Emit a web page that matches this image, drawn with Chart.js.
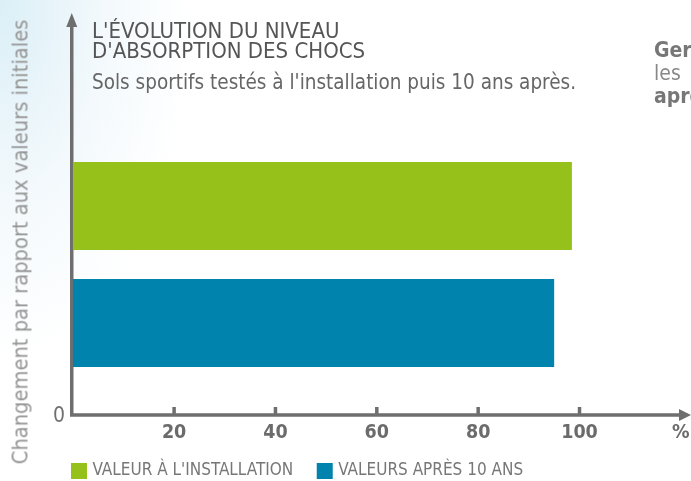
<!DOCTYPE html>
<html>
<head>
<meta charset="utf-8">
<script src="https://cdn.jsdelivr.net/npm/chart.js@4/dist/chart.umd.min.js"></script>
<style>
  body {
    margin: 0;
    width: 691px;
    height: 481px;
    overflow: hidden;
    position: relative;
    background: radial-gradient(ellipse 190px 360px at 0 0, #dbeff7 0%, #f3f9fc 55%, #ffffff 100%);
    font-family: "Liberation Sans Narrow", "DejaVu Sans Condensed", sans-serif;
  }
  #chart { position: absolute; left: 0; top: 0; }
  .txt { position: absolute; white-space: nowrap; }
  #title { left: 92px; top: 21px; font-size: 22px; line-height: 20px; color: #555; }
  #subtitle { left: 92px; top: 70px; font-size: 20.5px; color: #666; }
  #side { left: 654px; top: 39px; font-size: 21px; line-height: 23px; color: #888; }
  #side b { color: #777; }
  #ytitle { left: 20px; top: 242px; font-size: 21.7px; color: #959595; transform: translate(-50%, -50%) rotate(-90deg); }
  #zero { left: 53px; top: 403px; font-size: 21px; color: #707070; }
</style>
</head>
<body>
<canvas id="chart" width="691" height="481"></canvas>
<div class="txt" id="title">L'ÉVOLUTION DU NIVEAU<br>D'ABSORPTION DES CHOCS</div>
<div class="txt" id="subtitle">Sols sportifs testés à l'installation puis 10 ans après.</div>
<div class="txt" id="side"><b>Gerflor</b><br>les<br><b>après</b></div>
<div class="txt" id="ytitle">Changement par rapport aux valeurs initiales</div>
<div class="txt" id="zero">0</div>
<script>
// données
const categories = [''];
const seriesLabels = ["VALEUR À L'INSTALLATION", 'VALEURS APRÈS 10 ANS'];
const installValues = [98.5];
const after10Values = [95];
const tickLabels = [20, 40, 60, 80, 100];

const green = '#95c11a';
const blue = '#0083ad';
const axisColor = '#6e6e6e';
const fontFamily = '"Liberation Sans Narrow", "DejaVu Sans Condensed", sans-serif';

// axes avec flèches, dessinés à partir de l'échelle x
const axisArrows = {
  id: 'axisArrows',
  beforeDatasetsDraw(chart) {
    const { ctx, chartArea, scales: { x } } = chart;
    const x0 = x.getPixelForValue(0) - 1;
    const y0 = chartArea.bottom;
    ctx.save();
    ctx.strokeStyle = axisColor;
    ctx.fillStyle = axisColor;
    ctx.lineWidth = 3.5;
    ctx.beginPath();
    ctx.moveTo(x0, y0 + 1.75);
    ctx.lineTo(x0, 26);
    ctx.moveTo(x0 - 1.75, y0);
    ctx.lineTo(chart.width - 10, y0);
    tickLabels.forEach(function(v) {
      const px = x.getPixelForValue(v);
      ctx.moveTo(px, y0);
      ctx.lineTo(px, y0 - 8);
    });
    ctx.stroke();
    // pointes
    ctx.beginPath();
    ctx.moveTo(x0, 13);
    ctx.lineTo(x0 + 5.5, 27);
    ctx.lineTo(x0 - 5.5, 27);
    ctx.closePath();
    ctx.moveTo(chart.width, y0);
    ctx.lineTo(chart.width - 12, y0 - 6);
    ctx.lineTo(chart.width - 12, y0 + 6);
    ctx.closePath();
    ctx.fill();
    ctx.restore();
  }
};

const ctx = document.getElementById('chart').getContext('2d');
new Chart(ctx, {
  type: 'bar',
  data: {
    labels: categories,
    datasets: [
      { label: seriesLabels[0], data: installValues, backgroundColor: green },
      { label: seriesLabels[1], data: after10Values, backgroundColor: blue }
    ]
  },
  options: {
    indexAxis: 'y',
    responsive: false,
    animation: false,
    categoryPercentage: 0.777,
    barPercentage: 0.752,
    layout: { padding: { left: 47.5, right: 0, top: 114, bottom: -8.5 } },
    scales: {
      x: {
        min: 0,
        max: 122,
        grid: { display: false, drawTicks: false },
        border: { display: false },
        ticks: {
          stepSize: 20,
          includeBounds: false,
          autoSkip: false,
          maxRotation: 0,
          // mirror : pas de découpe des étiquettes à la boîte de l'axe
          mirror: true,
          padding: -29.7,
          color: '#6b6b6b',
          font: { family: fontFamily, size: 19.5, weight: 'bold' },
          callback: function(v) {
            if (tickLabels.includes(v)) return String(v);
            return v === 120 ? '%' : '';
          }
        },
        afterFit: function(scale) { scale.height = 21; }
      },
      y: {
        grid: { display: false },
        border: { display: false },
        ticks: { display: false },
        afterFit: function(scale) { scale.width = 25.25; }
      }
    },
    plugins: {
      tooltip: { enabled: false },
      legend: {
        position: 'bottom',
        align: 'start',
        labels: {
          boxWidth: 10,
          boxHeight: 10,
          padding: 26.5,
          color: '#777',
          font: { family: fontFamily, size: 17 },
          generateLabels: function(chart) {
            return chart.data.datasets.map(function(ds, i) {
              return {
                text: ds.label,
                fillStyle: ds.backgroundColor,
                strokeStyle: ds.backgroundColor,
                lineWidth: 6,
                fontColor: '#777',
                datasetIndex: i,
                hidden: false
              };
            });
          }
        }
      }
    }
  },
  plugins: [axisArrows]
});
</script>
</body>
</html>
